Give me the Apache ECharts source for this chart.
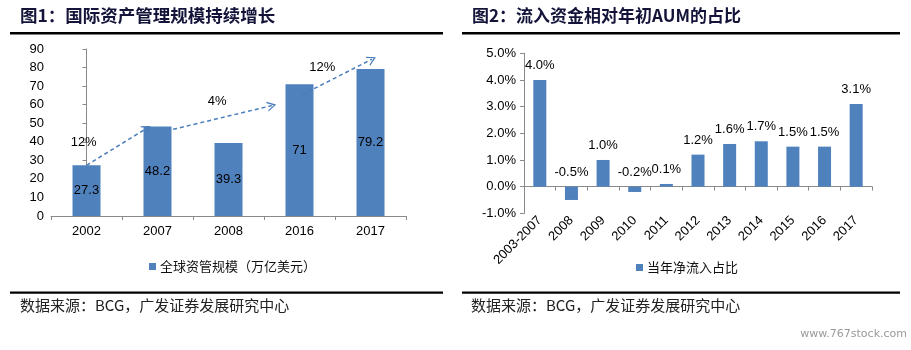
<!DOCTYPE html>
<html>
<head>
<meta charset="utf-8">
<script src="https://cdn.jsdelivr.net/npm/echarts@6/dist/echarts.min.js"></script>
<style>
html,body{margin:0;padding:0;background:#fff;}
#c{width:911px;height:350px;}
</style>
</head>
<body>
<div id="c"></div>
<script>
// ---- Data: Figure 1 ----
const catsL = ['2002', '2007', '2008', '2016', '2017'];
const aumValues = [27.3, 48.2, 39.3, 71, 79.2];
const aumTicksMax = 90;
const arrowStarts = [[0, 27.3], [1.22, 46.7], [3.03, 65.2]];
const arrowEnds = [[0.85, 47.3], [2.61, 59.5], [4.02, 84.5]];
const growthLabels = ['12%', '4%', '12%'];
const growthLabelPos = [[-0.04, 39.9], [1.84, 62], [3.32, 80]];

// ---- Data: Figure 2 ----
const catsR = ['2003-2007', '2008', '2009', '2010', '2011', '2012', '2013', '2014', '2015', '2016', '2017'];
const inflowPct = [4.0, -0.5, 1.0, -0.2, 0.1, 1.2, 1.6, 1.7, 1.5, 1.5, 3.1];

const latin = 'Liberation Sans, Arial, sans-serif';
const cjk = '"Noto Sans CJK SC", sans-serif';
const barColor = '#4F81BD';
const axisColor = '#8a8a8a';

const chart = echarts.init(document.getElementById('c'), null, {renderer: 'canvas'});

const arrowPath = 'path://M0,10 L5,0 L10,10 L8.6,10 L5,2.8 L1.4,10 Z';

const option = {
  animation: false,
  backgroundColor: '#fff',
  textStyle: {fontFamily: latin},
  grid: [
    {left: 51, top: 49, width: 355, height: 167},
    {left: 524, top: 53.3, width: 348, height: 160}
  ],
  legend: [
    {
      data: ['全球资管规模（万亿美元）'], left: 144, top: 255,
      icon: 'rect', itemWidth: 7, itemHeight: 7, itemGap: 4,
      textStyle: {fontFamily: cjk, fontSize: 13, color: '#111', padding: [0, 0, 0, -1]}
    },
    {
      data: ['当年净流入占比'], left: 631, top: 256,
      icon: 'rect', itemWidth: 7, itemHeight: 7,
      textStyle: {fontFamily: cjk, fontSize: 13, color: '#111', padding: [0, 0, 0, -1]}
    }
  ],
  xAxis: [
    {
      gridIndex: 0, type: 'category', data: catsL,
      axisLine: {lineStyle: {color: axisColor}},
      axisTick: {show: true, length: 4, lineStyle: {color: axisColor}},
      axisLabel: {color: '#000', fontSize: 13, margin: 9, fontFamily: latin}
    },
    {
      gridIndex: 0, type: 'value', min: -0.5, max: 4.5, show: false
    },
    {
      gridIndex: 1, type: 'category', data: catsR,
      axisLine: {onZero: true, lineStyle: {color: axisColor}},
      axisTick: {show: true, length: 4, lineStyle: {color: axisColor}},
      axisLabel: {color: '#000', fontSize: 13, rotate: 45, margin: 5, fontFamily: latin, interval: 0}
    }
  ],
  yAxis: [
    {
      gridIndex: 0, type: 'value', min: 0, max: aumTicksMax, interval: 10,
      axisLine: {show: true, lineStyle: {color: axisColor}},
      axisTick: {show: true, length: 4, lineStyle: {color: axisColor}},
      splitLine: {show: false},
      axisLabel: {color: '#000', fontSize: 13, margin: 7, fontFamily: latin}
    },
    {
      gridIndex: 1, type: 'value', min: -1, max: 5, interval: 1,
      axisLine: {show: true, lineStyle: {color: axisColor}},
      axisTick: {show: true, length: 4, lineStyle: {color: axisColor}},
      splitLine: {show: false},
      axisLabel: {color: '#000', fontSize: 13, margin: 8, fontFamily: latin,
        formatter: v => v.toFixed(1) + '%'}
    }
  ],
  series: [
    {
      name: '全球资管规模（万亿美元）', type: 'bar', xAxisIndex: 0, yAxisIndex: 0,
      data: aumValues, barWidth: 28,
      itemStyle: {color: barColor},
      label: {show: true, position: 'inside', color: '#000', fontSize: 13, fontFamily: latin}
    },
    {
      name: 'arrows', type: 'line', xAxisIndex: 1, yAxisIndex: 0, data: [],
      markLine: {
        silent: true, animation: false,
        symbol: ['none', arrowPath], symbolSize: [10, 9],
        label: {show: false},
        lineStyle: {color: '#4a7ebb', width: 1.5, type: [4, 3]},
        itemStyle: {color: '#4a7ebb'},
        data: arrowStarts.map((s, i) => [{coord: s}, {coord: arrowEnds[i]}])
      }
    },
    {
      name: 'growth', type: 'scatter', xAxisIndex: 1, yAxisIndex: 0,
      symbolSize: 0, silent: true,
      itemStyle: {opacity: 1},
      data: growthLabelPos.map((p, i) => ({value: p, name: growthLabels[i]})),
      label: {show: true, position: 'inside', formatter: p => p.name, color: '#000', fontSize: 13, fontFamily: latin}
    },
    {
      name: '当年净流入占比', type: 'bar', xAxisIndex: 2, yAxisIndex: 1,
      data: inflowPct, barWidth: 13,
      itemStyle: {color: barColor},
      label: {show: true, position: 'top', distance: 8, color: '#000', fontSize: 13, fontFamily: latin,
        formatter: p => p.value.toFixed(1) + '%'}
    }
  ],
  graphic: [
    {type: 'text', left: 20, top: 7, style: {text: '图1：国际资产管理规模持续增长', font: 'bold 17.5px "Noto Sans CJK SC"', fill: '#14143a'}},
    {type: 'rect', shape: {x: 10, y: 32, width: 433, height: 2.5}, style: {fill: '#000'}},
    {type: 'text', left: 472, top: 7, style: {text: '图2：流入资金相对年初AUM的占比', font: 'bold 17px "Noto Sans CJK SC"', fill: '#14143a'}},
    {type: 'rect', shape: {x: 462, y: 32, width: 438, height: 2.5}, style: {fill: '#000'}},
    {type: 'rect', shape: {x: 10, y: 291.5, width: 433, height: 2.2}, style: {fill: '#000'}},
    {type: 'rect', shape: {x: 462, y: 291.5, width: 438, height: 2.2}, style: {fill: '#000'}},
    {type: 'text', left: 20, top: 298, style: {text: '数据来源：BCG，广发证券发展研究中心', font: '15px "Noto Sans CJK SC"', fill: '#222'}},
    {type: 'text', left: 471, top: 298, style: {text: '数据来源：BCG，广发证券发展研究中心', font: '15px "Noto Sans CJK SC"', fill: '#222'}},
    {type: 'text', right: 4, top: 329, style: {text: 'www.767stock.com', font: '11px "DejaVu Sans"', fill: '#999'}}
  ]
};
chart.setOption(option);
</script>
</body>
</html>
